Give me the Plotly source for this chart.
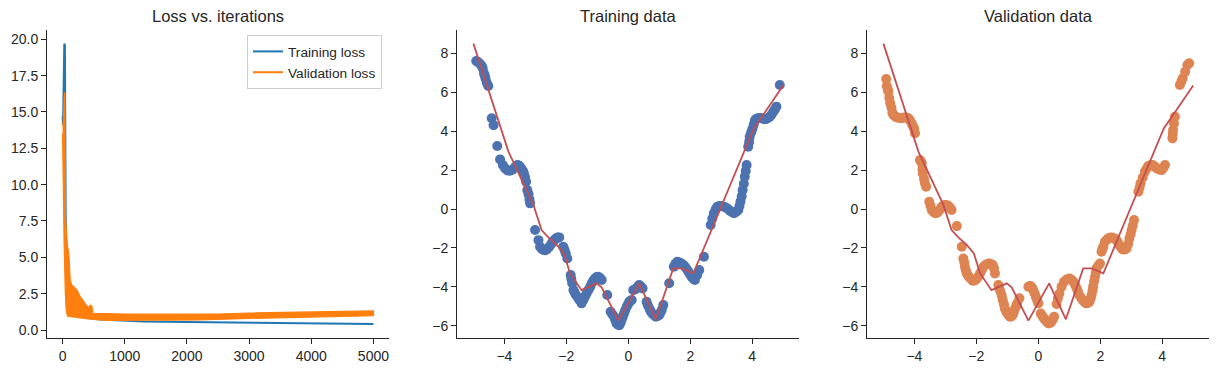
import plotly.graph_objects as go

# ---------------- Loss curves ----------------
train_loss_iter = [0, 8, 28, 38, 50, 70, 100, 150, 250, 400, 600, 1000, 1300, 2000, 2500, 3000, 3500, 4000, 4500, 5000]
train_loss_val = [14.7, 14.1, 19.7, 19.6, 8.0, 3.5, 1.8, 1.3, 1.0, 0.85, 0.72, 0.62, 0.58, 0.55, 0.53, 0.50, 0.48, 0.46, 0.44, 0.42]

# validation loss is a noisy band: upper and lower envelope
val_upper_iter = [0, 10, 30, 38, 45, 55, 75, 100, 124, 150, 180, 230, 284, 338, 392, 418, 445, 472, 488, 500, 600,
                  1000, 1500, 2000, 2500, 3000, 3500, 4000, 4500, 5000]
val_upper_val = [14.1, 14.2, 16.3, 16.3, 8.0, 7.0, 5.9, 5.3, 3.4, 3.1, 2.98, 2.76, 2.3, 1.96, 1.65, 1.5, 1.72, 1.65, 1.15, 1.15, 1.12,
                 1.10, 1.09, 1.08, 1.10, 1.17, 1.21, 1.26, 1.29, 1.31]
val_lower_iter = [0, 25, 45, 60, 80, 97, 177, 445, 713, 1249, 2000, 2200, 3000, 4000, 5000]
val_lower_val = [13.5, 6.0, 2.5, 1.3, 0.95, 0.92, 0.88, 0.74, 0.66, 0.65, 0.68, 0.69, 0.80, 0.91, 0.98]

# ---------------- Training data ----------------
train_x = [-4.91, -4.85, -4.78, -4.73, -4.70, -4.66, -4.63, -4.61, -4.57, -4.52,
           -4.41, -4.35, -4.23,
           -4.14, -4.05, -3.98, -3.90, -3.82, -3.74, -3.66, -3.58, -3.52, -3.46, -3.40, -3.37, -3.33, -3.30, -3.26, -3.22, -3.19, -3.17,
           -3.01,
           -2.90, -2.85, -2.79, -2.74, -2.68, -2.63, -2.55, -2.49, -2.44, -2.38, -2.33, -2.28, -2.23,
           -2.10, -2.06, -2.02, -1.97,
           -1.86, -1.84, -1.81, -1.77, -1.73, -1.69, -1.63, -1.58, -1.51, -1.45, -1.40, -1.35, -1.29, -1.23, -1.18, -1.13, -1.08, -1.02, -0.97, -0.91, -0.86,
           -0.68,
           -0.57, -0.51, -0.46, -0.42, -0.38, -0.33, -0.29, -0.25, -0.22, -0.18, -0.14, -0.10, -0.05, -0.01, 0.03, 0.07, 0.11,
           0.16, 0.22, 0.27, 0.31, 0.35, 0.41, 0.46,
           0.59, 0.63, 0.68, 0.72, 0.77, 0.83, 0.89, 0.95, 1.00, 1.04, 1.08, 1.13,
           1.32,
           1.47, 1.52, 1.58, 1.65, 1.72, 1.78, 1.83, 1.89, 1.94, 1.99, 2.04, 2.10, 2.15, 2.22, 2.29,
           2.44,
           2.66, 2.71, 2.76, 2.82, 2.87, 2.94, 3.01, 3.08, 3.15, 3.22, 3.28, 3.35, 3.41, 3.48, 3.55, 3.59, 3.62, 3.66, 3.69, 3.73, 3.76, 3.79, 3.82,
           3.87, 3.90, 3.92, 3.97, 4.01, 4.05, 4.09, 4.14, 4.19, 4.25, 4.31, 4.38, 4.44, 4.50, 4.57, 4.62, 4.68, 4.73, 4.78,
           4.89]
train_y = [7.61, 7.55, 7.45, 7.35, 7.23, 6.97, 6.85, 6.71, 6.49, 6.32,
           4.66, 4.31, 3.24,
           2.55, 2.26, 2.09, 1.98, 1.97, 2.02, 2.15, 2.26, 2.22, 2.10, 1.95, 1.83, 1.62, 1.40, 0.97, 0.75, 0.49, 0.29,
           -1.08,
           -1.60, -1.94, -2.05, -2.11, -2.12, -2.08, -1.94, -1.80, -1.68, -1.58, -1.51, -1.46, -1.46,
           -1.94, -2.10, -2.28, -2.54,
           -3.39, -3.60, -3.82, -4.17, -4.30, -4.42, -4.55, -4.68, -4.85, -4.68, -4.51, -4.35, -4.17, -4.00, -3.82, -3.68, -3.57, -3.50, -3.48, -3.55, -3.65,
           -4.42,
           -5.28, -5.42, -5.54, -5.70, -5.88, -5.95, -5.97, -5.85, -5.71, -5.55, -5.37, -5.20, -5.02, -4.90, -4.77, -4.72, -4.68,
           -4.17, -4.12, -4.08, -3.98, -3.91, -3.98, -4.08,
           -4.77, -4.95, -5.11, -5.25, -5.37, -5.46, -5.54, -5.50, -5.45, -5.32, -5.19, -4.94,
           -3.82,
           -2.97, -2.82, -2.71, -2.75, -2.80, -2.88, -2.97, -3.10, -3.22, -3.35, -3.48, -3.58, -3.65, -3.40, -3.14,
           -2.45,
           -0.82, -0.50, -0.22, -0.02, 0.12, 0.15, 0.15, 0.12, 0.08, 0.00, -0.09, -0.16, -0.22, -0.15, -0.05, 0.15, 0.38, 0.65, 0.97, 1.30, 1.66, 1.95, 2.26,
           3.20, 3.45, 3.72, 3.95, 4.14, 4.35, 4.57, 4.64, 4.66, 4.68, 4.66, 4.62, 4.62, 4.66, 4.74, 4.85, 5.00, 5.12, 5.26,
           6.37]

# ---------------- Validation data ----------------
val_x = [-4.91, -4.89, -4.86, -4.84, -4.81, -4.78, -4.74, -4.71, -4.68, -4.62, -4.57, -4.50, -4.44, -4.37, -4.30, -4.24, -4.19, -4.14, -4.09, -4.05, -4.01, -3.98,
         -3.82, -3.79, -3.76, -3.74, -3.73, -3.69, -3.66, -3.62,
         -3.52, -3.48, -3.44, -3.38, -3.33, -3.28, -3.23, -3.17, -3.12, -3.06, -3.01, -2.95, -2.90, -2.85, -2.80,
         -2.63,
         -2.47,
         -2.42, -2.39, -2.37, -2.34, -2.31, -2.27, -2.23, -2.17, -2.12, -2.06, -2.01, -1.94, -1.88, -1.82, -1.77, -1.69, -1.61, -1.54, -1.47, -1.43, -1.40,
         -1.29, -1.26, -1.22, -1.18, -1.15, -1.11, -1.08, -1.04, -1.00, -0.95, -0.91, -0.87, -0.83, -0.79, -0.75, -0.71, -0.68, -0.61,
         -0.32, -0.28, -0.25, -0.20, -0.16, -0.12, -0.08, -0.04, 0.00,
         0.08, 0.12, 0.16, 0.20, 0.25, 0.29, 0.33, 0.38, 0.42, 0.47, 0.51,
         0.59, 0.63, 0.68, 0.75, 0.83, 0.91, 1.00, 1.07, 1.13, 1.19, 1.24, 1.28, 1.32, 1.38, 1.43, 1.49, 1.54, 1.60, 1.65, 1.69, 1.72, 1.75, 1.77, 1.80, 1.83, 1.86, 1.88, 1.94, 1.99,
         2.04, 2.07, 2.10, 2.15, 2.21, 2.26, 2.31, 2.37, 2.44, 2.51, 2.56, 2.61, 2.67, 2.72, 2.79, 2.85, 2.90, 2.94, 2.98, 3.01, 3.05, 3.09,
         3.23, 3.27, 3.30, 3.37, 3.44, 3.50, 3.55, 3.62, 3.69, 3.76, 3.82, 3.90, 3.98, 4.04, 4.09,
         4.33, 4.34, 4.35, 4.38, 4.41,
         4.57, 4.62, 4.66, 4.74, 4.81, 4.87]
val_y = [6.68, 6.32, 6.15, 6.03, 5.70, 5.43, 5.20, 4.95, 4.83, 4.76, 4.71, 4.68, 4.66, 4.68, 4.71, 4.68, 4.66, 4.55, 4.40, 4.27, 4.14, 3.89,
         2.52, 2.45, 2.35, 2.05, 1.83, 1.55, 1.32, 1.15,
         0.37, 0.15, -0.05, -0.15, -0.22, -0.20, -0.14, -0.02, 0.12, 0.18, 0.20, 0.19, 0.15, 0.06, -0.05,
         -0.88,
         -1.94,
         -2.54, -2.75, -2.97, -3.15, -3.31, -3.42, -3.51, -3.60, -3.69, -3.67, -3.62, -3.48, -3.31, -3.12, -2.97, -2.86, -2.80, -2.82, -2.88, -3.05, -3.31,
         -3.91, -4.08, -4.25, -4.46, -4.68, -4.90, -5.11, -5.25, -5.37, -5.47, -5.54, -5.52, -5.45, -5.30, -5.11, -4.98, -4.85, -4.59,
         -4.00, -3.97, -3.96, -4.05, -4.17, -4.33, -4.51, -4.68, -4.85,
         -5.37, -5.47, -5.57, -5.66, -5.74, -5.82, -5.88, -5.86, -5.80, -5.68, -5.54,
         -4.88, -4.60, -4.34, -4.00, -3.74, -3.62, -3.57, -3.62, -3.74, -3.90, -4.08, -4.25, -4.42, -4.56, -4.68, -4.78, -4.85, -4.83, -4.77, -4.60, -4.42, -4.20, -3.99, -3.72, -3.48, -3.25, -3.05, -2.90, -2.80,
         -2.20, -2.05, -1.94, -1.68, -1.58, -1.51, -1.48, -1.46, -1.50, -1.56, -1.70, -1.85, -1.98, -2.08, -2.08, -2.03, -1.80, -1.51, -1.30, -1.08, -0.85, -0.57,
         0.89, 1.10, 1.32, 1.62, 1.92, 2.08, 2.21, 2.25, 2.26, 2.18, 2.09, 2.03, 2.00, 2.12, 2.26,
         3.63, 3.85, 4.06, 4.40, 4.74,
         6.37, 6.55, 6.72, 7.06, 7.40, 7.49]

# ---------------- Model prediction (red line) ----------------
pred_x = [-5.0, -3.87, -3.06, -2.80, -2.58, -2.31, -2.08, -1.88, -1.51, -1.24, -1.02, -0.86, -0.32, 0.35, 0.89, 1.45, 1.72, 2.10, 4.05, 4.46, 5.0]
pred_y = [8.5, 2.95, 0.2, -1.08, -1.46, -1.85, -2.28, -3.31, -4.17, -3.96, -3.82, -4.03, -5.74, -3.82, -5.67, -3.05, -3.05, -3.31, 4.14, 5.09, 6.35]

titles = ["Loss vs. iterations", "Training data", "Validation data"]

# ---------------- Styling ----------------
TXT = "#262626"
FONT = "Liberation Sans, Arial, DejaVu Sans, sans-serif"
C_TRAIN_LOSS = "#1f77b4"
C_VAL_LOSS = "#ff7f0e"
C_TRAIN_PTS = "#4c72b0"
C_VAL_PTS = "#dd8452"
C_PRED = "#c44e52"

W, H = 1219, 372
doms = [(47, 389), (457, 799), (867, 1209)]
ytop, ybot = 30, 338
ydom = [1 - ybot / H, 1 - ytop / H]

fig = go.Figure()

# loss plot
fig.add_trace(go.Scatter(x=train_loss_iter, y=train_loss_val, mode="lines",
                         line=dict(color=C_TRAIN_LOSS, width=2), name="Training loss",
                         xaxis="x", yaxis="y", showlegend=True))
band_x = val_upper_iter + val_lower_iter[::-1]
band_y = val_upper_val + val_lower_val[::-1]
fig.add_trace(go.Scatter(x=band_x, y=band_y, mode="lines", fill="toself", fillcolor=C_VAL_LOSS,
                         line=dict(color=C_VAL_LOSS, width=1.2), xaxis="x", yaxis="y", showlegend=False,
                         name="Validation loss"))
fig.add_trace(go.Scatter(x=[None], y=[None], mode="lines", line=dict(color=C_VAL_LOSS, width=2),
                         name="Validation loss", xaxis="x", yaxis="y", showlegend=True))

# training data
fig.add_trace(go.Scatter(x=train_x, y=train_y, mode="markers",
                         marker=dict(color=C_TRAIN_PTS, size=10, line=dict(width=0)),
                         xaxis="x2", yaxis="y2", showlegend=False))
fig.add_trace(go.Scatter(x=pred_x, y=pred_y, mode="lines", line=dict(color=C_PRED, width=1.8),
                         xaxis="x2", yaxis="y2", showlegend=False))
# validation data
fig.add_trace(go.Scatter(x=val_x, y=val_y, mode="markers",
                         marker=dict(color=C_VAL_PTS, size=10, line=dict(width=0)),
                         xaxis="x3", yaxis="y3", showlegend=False))
fig.add_trace(go.Scatter(x=pred_x, y=pred_y, mode="lines", line=dict(color=C_PRED, width=1.8),
                         xaxis="x3", yaxis="y3", showlegend=False))

axis_common = dict(showline=True, linecolor=TXT, linewidth=1, ticks="outside", ticklen=5, tickwidth=1,
                   tickcolor=TXT, showgrid=False, zeroline=False, mirror=False,
                   tickfont=dict(family=FONT, size=14, color=TXT))

layout = dict(width=W, height=H, margin=dict(l=0, r=0, t=0, b=0),
              paper_bgcolor="white", plot_bgcolor="white",
              font=dict(family=FONT, color=TXT))

xranges = [[-250, 5250], [-5.53, 5.51], [-5.53, 5.51]]
yranges = [[-0.55, 20.64], [-6.63, 9.2], [-6.63, 9.2]]
xdt = [1000, 2, 2]
ydt = [2.5, 2, 2]
yfmt = [".1f", "", ""]
for i in range(3):
    sx = "" if i == 0 else str(i + 1)
    d = [doms[i][0] / W, doms[i][1] / W]
    layout["xaxis" + sx] = dict(axis_common, domain=d, range=xranges[i], dtick=xdt[i], tick0=0,
                                anchor="y" + sx)
    layout["yaxis" + sx] = dict(axis_common, domain=ydom, range=yranges[i], dtick=ydt[i], tick0=0,
                                tickformat=yfmt[i], anchor="x" + sx)

fig.update_layout(**layout)

for i, t in enumerate(titles):
    fig.add_annotation(text=t, x=(doms[i][0] + doms[i][1]) / 2 / W, y=1 - 16.5 / H,
                       xref="paper", yref="paper", xanchor="center", yanchor="middle",
                       showarrow=False, font=dict(family=FONT, size=16.5, color=TXT))

fig.update_layout(legend=dict(x=382 / W, y=1 - 35 / H, xanchor="right", yanchor="top",
                              bordercolor="#cccccc", borderwidth=1, bgcolor="rgba(255,255,255,0.8)",
                              font=dict(family=FONT, size=13.7, color=TXT), tracegroupgap=0))

fig.write_html("out.html", config={"displayModeBar": False},
               post_script="document.body.style.margin='0';document.body.style.overflow='hidden';")
